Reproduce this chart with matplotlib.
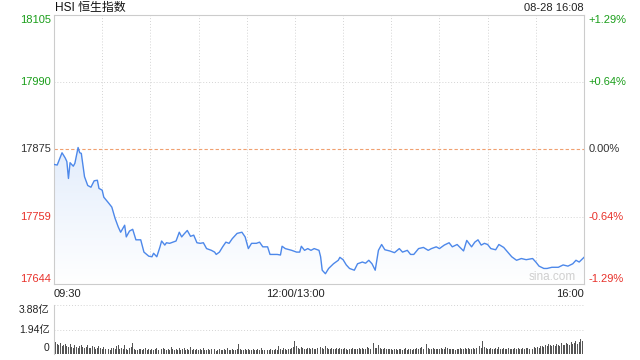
import matplotlib
matplotlib.use("Agg")
import matplotlib.pyplot as plt
import numpy as np
from matplotlib.colors import LinearSegmentedColormap

plt.rcParams['font.family'] = ['Liberation Sans', 'Noto Sans CJK SC', 'DejaVu Sans']

# ---- data ----
prev_close = 17875
minutes = [0, 2, 5, 7, 8, 9, 10, 12, 13, 15, 16, 17, 19, 21, 23, 25, 27, 28, 30, 31,
           34, 36, 38, 40, 41.5, 44, 45, 47, 49, 51, 54, 56, 59, 61, 62, 64, 66, 67, 69, 70,
           72, 74, 76, 78, 79.5, 81, 83, 85, 87, 89, 91, 93, 95, 98, 100, 101, 103, 105, 107, 109,
           111, 114, 117, 119, 121, 123, 126, 128, 130, 133, 134.5, 139, 141, 142, 144, 148, 151, 153, 154, 156,
           158, 160, 162, 165, 166, 167, 169, 171, 174, 177, 178, 180, 182, 184, 187, 189, 192, 194, 196, 198,
           200, 202, 204, 206, 209, 212, 215, 217, 220, 222, 224, 227, 230, 233, 235, 238, 240, 243, 246, 248,
           251, 255, 257, 260, 262, 264, 266, 268, 270, 272, 275, 277, 280, 285, 288, 291, 294, 298, 300, 302,
           305, 307, 310, 314, 317, 320, 323, 325, 327, 330]
prices = [17849, 17848, 17869, 17860, 17854, 17825, 17852, 17846, 17851, 17878, 17869, 17868, 17828, 17813, 17810, 17821, 17822, 17808, 17805, 17793,
          17783, 17776, 17757, 17742, 17733, 17745, 17725, 17735, 17738, 17720, 17720, 17699, 17692, 17691, 17697, 17691, 17708, 17718, 17711, 17715,
          17714, 17716, 17718, 17733, 17725, 17730, 17736, 17726, 17728, 17715, 17714, 17715, 17705, 17702, 17699, 17695, 17699, 17708, 17716, 17714,
          17722, 17731, 17733, 17725, 17705, 17714, 17714, 17716, 17708, 17708, 17695, 17695, 17694, 17709, 17705, 17702, 17699, 17699, 17709, 17702,
          17705, 17702, 17705, 17702, 17691, 17668, 17662, 17671, 17679, 17685, 17690, 17686, 17677, 17671, 17668, 17679, 17682, 17680, 17685, 17679,
          17668, 17702, 17712, 17703, 17701, 17698, 17705, 17699, 17702, 17695, 17695, 17705, 17707, 17702, 17705, 17708, 17705, 17711, 17715, 17708,
          17712, 17701, 17719, 17708, 17716, 17720, 17711, 17714, 17712, 17705, 17703, 17712, 17707, 17691, 17685, 17688, 17686, 17688, 17682, 17675,
          17671, 17671, 17673, 17673, 17677, 17675, 17679, 17685, 17682, 17690]

volume = [1.65, 0.95, 0.82, 0.74, 0.90, 0.65, 0.70, 0.80, 0.60, 0.54, 0.78, 0.57, 0.51, 0.68, 0.59, 0.49, 0.63, 0.74, 0.54, 0.47, 0.57, 0.70, 0.51, 0.45, 0.61, 0.54, 0.41, 0.49, 0.65, 0.46,
          0.43, 0.54, 0.38, 0.47, 0.41, 0.35, 0.51, 0.45, 0.39, 0.61, 0.74, 0.36, 0.49, 0.41, 0.70, 0.38, 0.34, 0.46, 0.54, 0.84, 0.41, 0.35, 0.32, 0.42, 0.38, 0.30, 0.36, 0.45, 0.34, 0.39,
          0.35, 0.41, 0.31, 0.38, 0.47, 0.34, 0.30, 0.39, 0.51, 0.36, 0.32, 0.42, 0.35, 0.57, 0.38, 0.31, 0.41, 0.34, 0.49, 0.30, 0.36, 0.45, 0.32, 0.39, 0.35, 0.54, 0.31, 0.38, 0.34, 0.42,
          0.30, 0.36, 0.32, 0.47, 0.35, 0.28, 0.39, 0.34, 0.43, 0.31, 0.38, 0.27, 0.35, 0.41, 0.32, 0.30, 0.36, 0.34, 0.45, 0.28, 0.35, 0.39, 0.31, 0.34, 0.42, 0.81, 0.38, 0.32, 0.35, 0.41,
          0.31, 0.36, 0.34, 0.30, 0.39, 0.32, 0.28, 0.36, 0.35, 0.46, 0.31, 0.34, 0.38, 0.30, 0.35, 0.41, 0.32, 0.28, 0.36, 0.34, 0.61, 0.41, 0.35, 0.47, 0.38, 0.32, 0.42, 0.36, 0.45, 0.54,
          1.05, 0.61, 0.51, 0.43, 0.54, 0.47, 0.41, 0.38, 0.49, 0.45, 0.39, 0.51, 0.42, 0.36, 0.46, 0.41, 0.57, 0.49, 0.43, 0.61, 0.51, 0.42, 0.38, 0.47, 0.41, 0.36, 0.45, 0.39, 0.49, 0.42,
          0.38, 0.46, 0.41, 0.35, 0.43, 0.39, 0.47, 0.36, 0.42, 0.38, 0.45, 0.41, 0.50, 0.39, 0.43, 0.54, 0.46, 0.41, 0.61, 0.85, 0.51, 0.45, 0.74, 0.49, 0.42, 0.39, 0.46, 0.41, 0.36, 0.43,
          0.39, 0.35, 0.42, 0.38, 0.34, 0.41, 0.36, 0.32, 0.39, 0.45, 0.35, 0.38, 0.42, 0.34, 0.41, 0.36, 0.47, 0.39, 0.45, 0.54, 0.42, 0.49, 0.78, 0.45, 0.41, 0.38, 0.46, 0.41, 0.36, 0.43,
          0.39, 0.47, 0.42, 0.38, 0.57, 0.45, 0.41, 0.36, 0.43, 0.39, 0.35, 0.42, 0.38, 0.46, 0.41, 0.36, 0.45, 0.39, 0.49, 0.42, 0.38, 0.46, 0.41, 0.51, 0.45, 0.61, 0.49, 1.00, 0.54, 0.45,
          0.41, 0.38, 0.46, 0.42, 0.36, 0.45, 0.39, 0.54, 0.43, 0.38, 0.47, 0.41, 0.36, 0.45, 0.39, 0.42, 0.38, 0.46, 0.41, 0.49, 0.43, 0.39, 0.47, 0.42, 0.51, 0.45, 0.41, 0.49, 0.43, 0.54,
          0.47, 0.57, 0.51, 0.65, 0.60, 0.54, 0.72, 0.63, 0.78, 0.68, 0.60, 0.75, 0.65, 0.80, 0.72, 0.63, 0.84, 0.75, 0.68, 0.90, 0.78, 0.72, 0.95, 0.80, 0.88, 1.05, 0.78, 0.92, 1.15, 1.00, 3.95]

price_ticks = [17644, 17759, 17875, 17990, 18105]
pct_labels = ['-1.29%', '-0.64%', '0.00%', '+0.64%', '+1.29%']
vol_ticks = [0, 1.94, 3.88]
vol_labels = ['0', '1.94亿', '3.88亿']
x_labels = ['09:30', '12:00/13:00', '16:00']
x_label_pos = [0, 150, 330]
title = 'HSI 恒生指数'
stamp = '08-28 16:08'

GREEN = '#1a9e1a'
RED = '#e8312a'
DARK = '#333333'
GRID = '#d4d4d4'
LINE = '#4d88ea'
DOT = (0, (1, 2))

fig = plt.figure(figsize=(6.4, 3.6), dpi=100)
ax = fig.add_axes([54/640, 1-284/360, 530/640, 269.5/360])
axv = fig.add_axes([54/640, 1-354/360, 530/640, 49/360])

ymin, ymax = 17644.4, 18105.6
ax.set_xlim(0, 330)
ax.set_ylim(ymin, ymax)

# gradient fill under the line
cmap = LinearSegmentedColormap.from_list('g', ['#ffffff', '#e3edfc'])
grad = np.linspace(0, 1, 256).reshape(-1, 1)
poly = ax.fill_between(minutes, prices, ymin, color='none', lw=0)
img = ax.imshow(grad, aspect='auto', cmap=cmap, origin='lower',
                extent=[0, 330, ymin, max(prices)], zorder=1)
img.set_clip_path(poly.get_paths()[0], transform=ax.transData)

ax.plot(minutes, prices, color=LINE, lw=1.0, zorder=3)

# grid lines
for m in range(30, 330, 30):
    ax.axvline(m, color=GRID, lw=0.7, ls=DOT, zorder=0)
for p in [17990, 17759]:
    ax.axhline(p, color=GRID, lw=0.7, ls=DOT, zorder=0)
ax.axhline(prev_close, color='#f0a070', lw=0.8, ls=(0, (3, 2)), zorder=2)

for s in ['left', 'bottom', 'top', 'right']:
    ax.spines[s].set_color('#cccccc')
    ax.spines[s].set_linewidth(0.8)
ax.set_xticks([])
ax.set_yticks([])

# left/right labels
lab_colors = [RED, RED, DARK, GREEN, GREEN]
for i, (p, lab, c) in enumerate(zip(price_ticks, pct_labels, lab_colors)):
    va = 'center'
    if i == 0:
        va = 'bottom'
    elif i == len(price_ticks) - 1:
        va = 'top'
    ax.text(-0.006, p, str(p), transform=ax.get_yaxis_transform(), ha='right', va=va,
            color=c, fontsize=8)
    ax.text(1.008, p, lab, transform=ax.get_yaxis_transform(), ha='left', va=va,
            color=c, fontsize=8)

for pos, lab, ha in zip(x_label_pos, x_labels, ['left', 'center', 'right']):
    ax.text(pos, -0.048, lab, transform=ax.get_xaxis_transform(), ha=ha, va='baseline',
            color='#222222', fontsize=8)

ax.text(0.002, 1.013, title, transform=ax.transAxes, ha='left', va='baseline', fontsize=8.6, color='#111111')
ax.text(1, 1.013, stamp, transform=ax.transAxes, ha='right', va='baseline', fontsize=8, color='#222222')
ax.text(0.985, 0.005, 'sina.com', transform=ax.transAxes, ha='right', va='bottom', fontsize=8.5, color='#cfcfcf')

# volume panel
vx = np.arange(len(volume))
axv.bar(vx, volume, width=0.6, color='#555555', lw=0)
axv.set_xlim(0, 330)
axv.set_ylim(0, 3.88)
for v in [1.94, 3.88]:
    axv.axhline(v, color=GRID, lw=0.7, ls=DOT, zorder=0)
for s in ['top', 'right', 'bottom']:
    axv.spines[s].set_visible(False)
axv.spines['left'].set_color('#cccccc')
axv.spines['left'].set_linewidth(0.8)
axv.set_xticks([])
axv.set_yticks([])
vol_pos = [0.45, 1.94, 3.88]
vol_va = ['center', 'center', 'top']
for v, lab, va in zip(vol_pos, vol_labels, vol_va):
    axv.text(-0.008, v, lab, transform=axv.get_yaxis_transform(),
             ha='right', va=va, fontsize=7.5, color='#222222')

fig.savefig('out.png', dpi=100)
